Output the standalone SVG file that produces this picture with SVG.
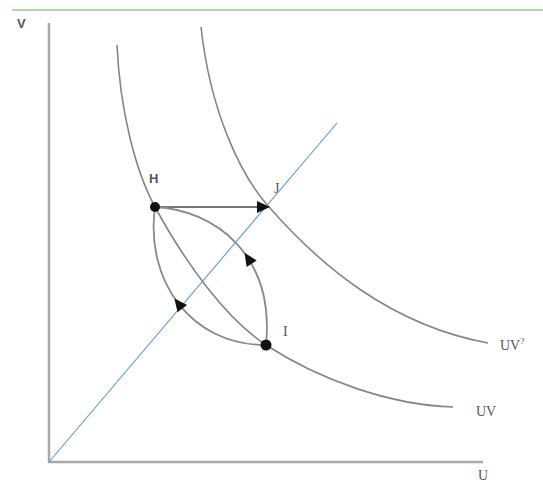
<svg xmlns="http://www.w3.org/2000/svg" width="543" height="485" viewBox="0 0 543 485">
<style>
.ax{stroke:#a8a8a8;stroke-width:2.5;fill:none}
.cv{stroke:#858585;stroke-width:1.6;fill:none}
.lens{stroke:#8a8a8a;stroke-width:1.8;fill:none}
.lbl{font-family:"Liberation Serif",serif;font-size:14px;fill:#555}
.bold{font-family:"Liberation Sans",sans-serif;font-weight:bold;font-size:13px;fill:#555}
.dot{fill:#111}
.ah{fill:#111}
</style>
<defs>
<path id="arrow" d="M0,0 L-13,-6 L-13,6 Z"/>
</defs>
<rect width="543" height="485" fill="#ffffff"/>
<line x1="12" y1="10" x2="543" y2="10" stroke="#8ccf7e" stroke-width="1.5"/>
<g id="axes">
<line class="ax" x1="49" y1="23" x2="49" y2="462"/>
<line class="ax" x1="48" y1="462" x2="483" y2="462"/>
</g>
<g id="curves">
<path id="UV" class="cv" d="M117,45 C120,110 135,170 155,207 C185,262 225,318 266,345 C320,380 390,405 453,407"/>
<path id="UVp" class="cv" d="M201,27 C210,110 240,175 269,207 C320,265 390,325 488,343"/>
</g>
<g id="connectors">
<line x1="49" y1="462" x2="337" y2="123" stroke="#5b9bd5" stroke-width="1.1"/>
<line x1="155" y1="207" x2="262" y2="207" stroke="#777" stroke-width="1.8"/>
<use href="#arrow" class="ah" transform="translate(270,207)"/>
<path class="lens" d="M155,207 C215,210 275,255 266,345"/>
<path class="lens" d="M155,207 C145,280 190,345 266,345"/>
<use href="#arrow" class="ah" transform="translate(244.6,252.8) rotate(-123)"/>
<use href="#arrow" class="ah" transform="translate(174.4,298.4) rotate(-127.5)"/>
</g>
<g id="node-H"><circle class="dot" cx="155" cy="207" r="5"/><text class="bold" x="149" y="183">H</text></g>
<g id="node-J"><text class="lbl" x="274" y="193">J</text></g>
<g id="node-I"><circle class="dot" cx="266" cy="345" r="5.5"/><text class="lbl" x="283" y="336">I</text></g>
<g id="labels">
<text class="bold" x="17" y="28">V</text>
<text class="lbl" x="500" y="350">UV<tspan font-size="9" dy="-6">?</tspan></text>
<text class="lbl" x="476" y="416">UV</text>
<text class="lbl" x="478" y="480" font-size="12">U</text>
</g>
</svg>
